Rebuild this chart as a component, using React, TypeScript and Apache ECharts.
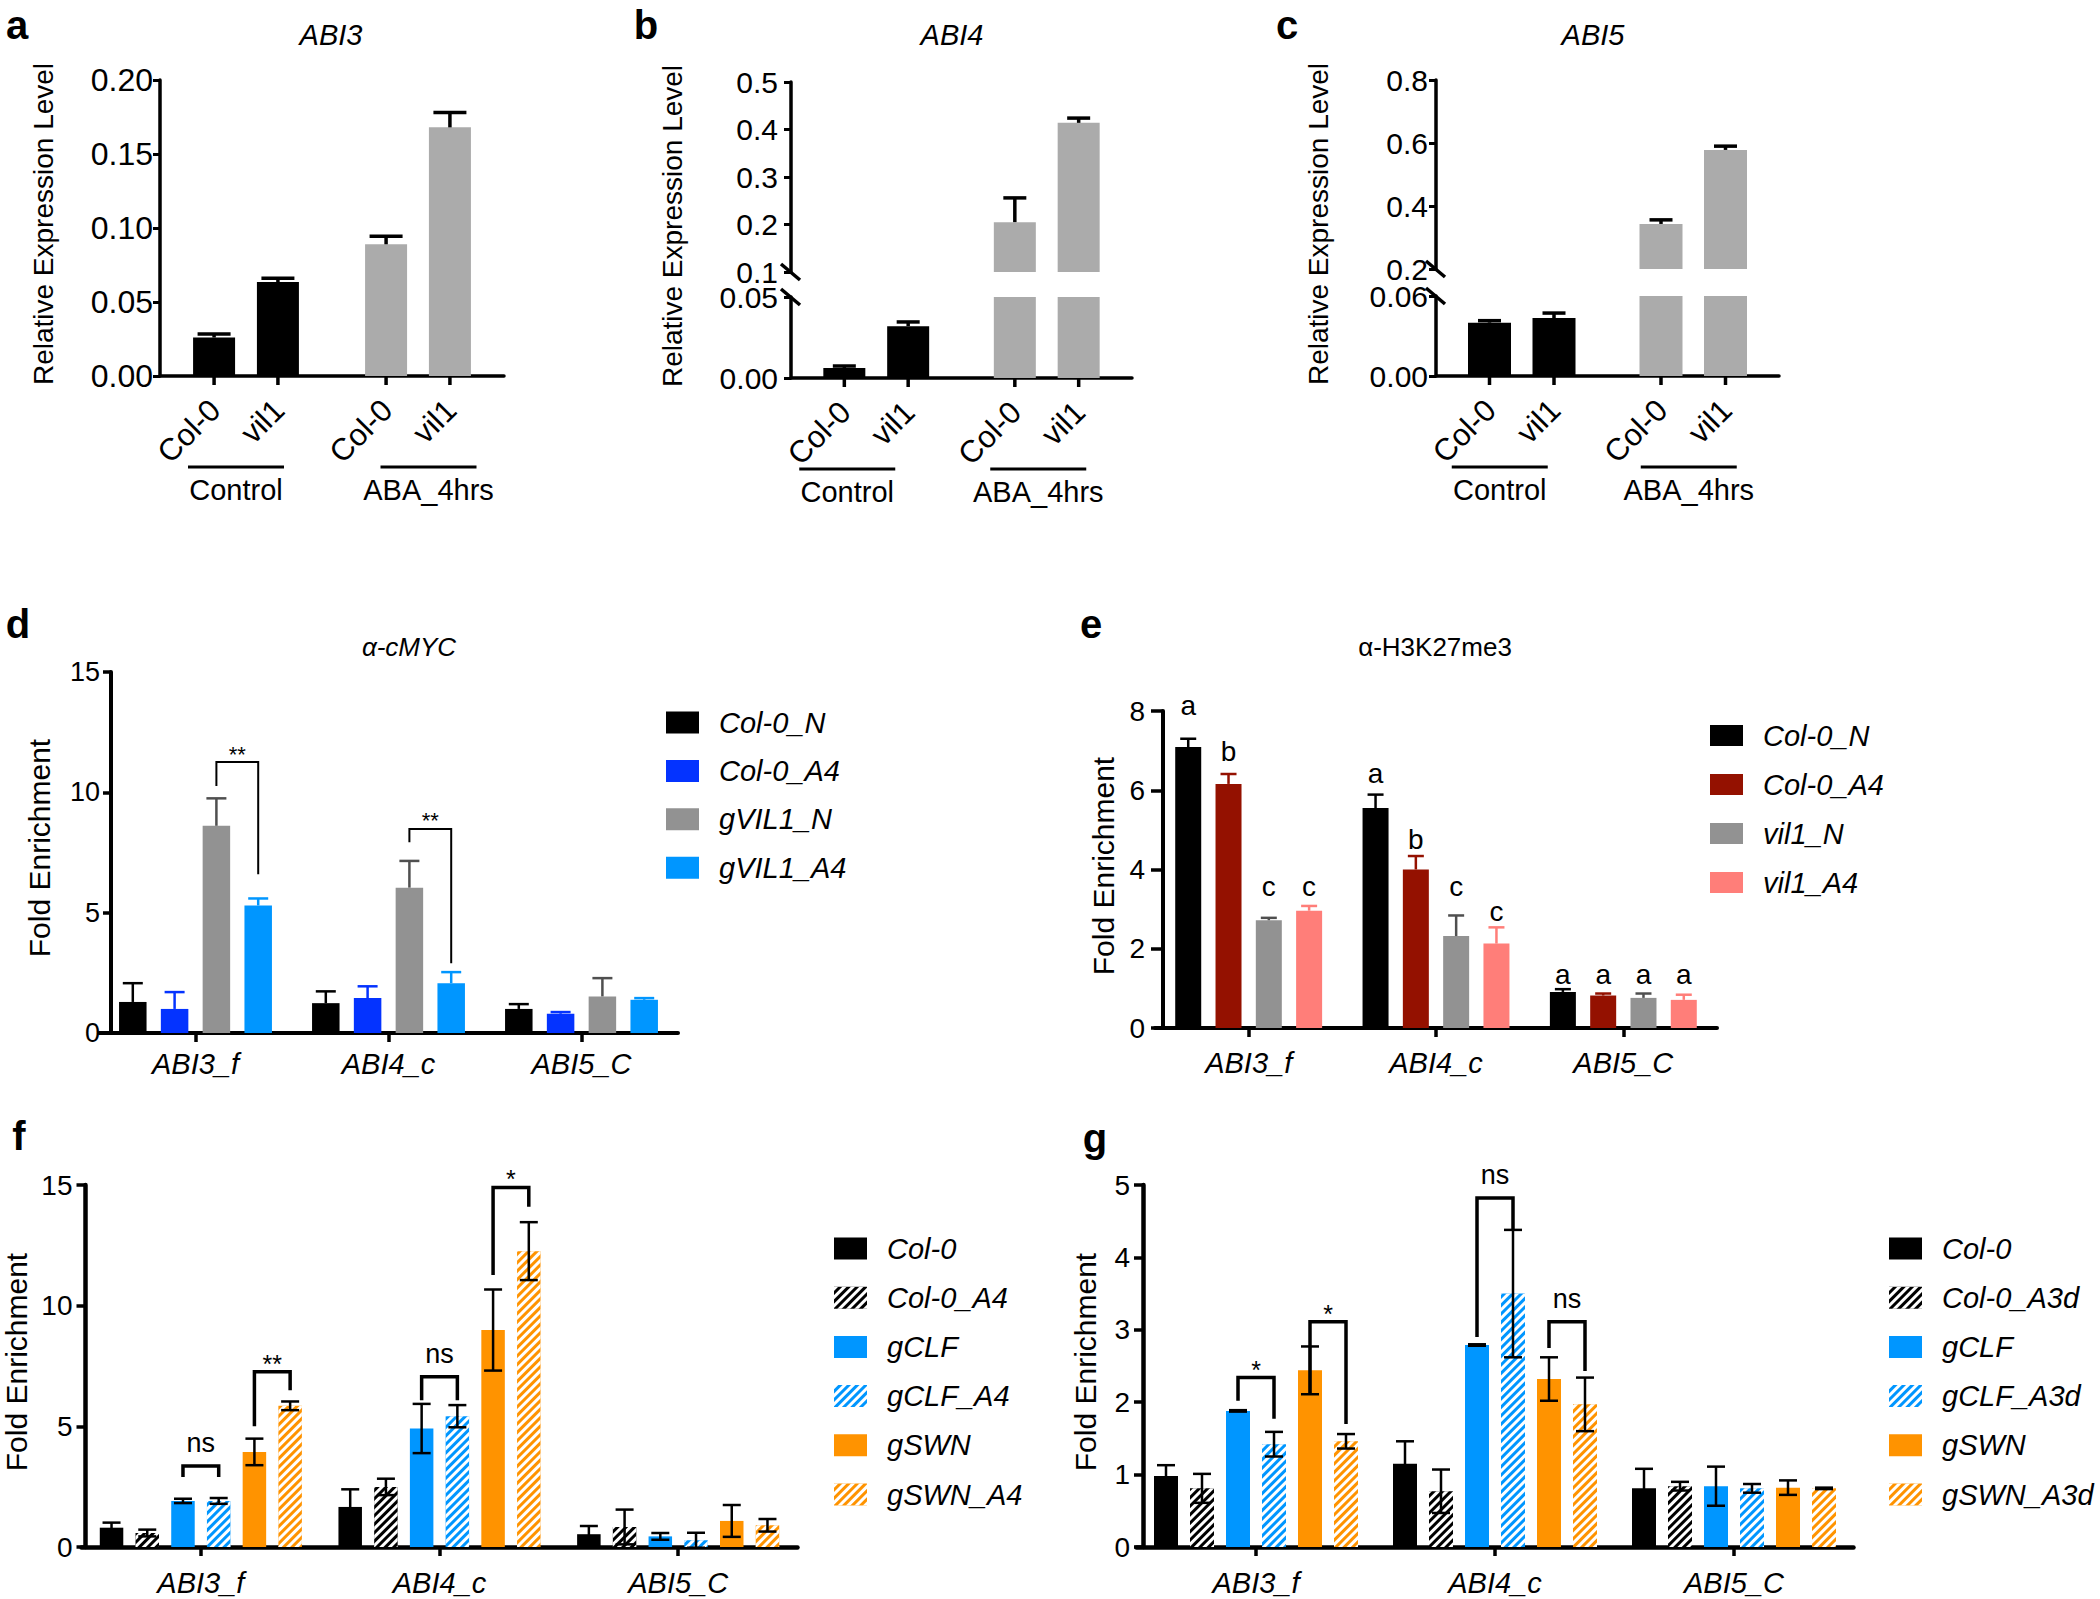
import React, { useEffect, useRef } from 'react';
import * as echarts from 'echarts';

const SANS = "'Liberation Sans', Arial, Helvetica, sans-serif";

// ---------------- a–c : relative expression ----------------
const conditions = ['Control', 'ABA_4hrs'];
const genotypes = ['Col-0', 'vil1'];
const conditionColors = ['#000000', '#ABABAB'];

const abi3Col0 = [0.026, 0.089];
const abi3Col0Err = [0.0023, 0.0055];
const abi3Vil1 = [0.0635, 0.168];
const abi3Vil1Err = [0.0025, 0.01];
const abi3Ticks = [0, 0.05, 0.1, 0.15, 0.2];

const abi4Col0 = [0.0062, 0.205];
const abi4Col0Err = [0.0012, 0.051];
const abi4Vil1 = [0.032, 0.414];
const abi4Vil1Err = [0.0026, 0.01];
const abi4LowerTicks = [0, 0.05];
const abi4UpperTicks = [0.1, 0.2, 0.3, 0.4, 0.5];

const abi5Col0 = [0.04, 0.343];
const abi5Col0Err = [0.0015, 0.013];
const abi5Vil1 = [0.0435, 0.578];
const abi5Vil1Err = [0.0037, 0.012];
const abi5LowerTicks = [0, 0.06];
const abi5UpperTicks = [0.2, 0.4, 0.6, 0.8];

// ---------------- d–g : ChIP fold enrichment ----------------
const loci = ['ABI3_f', 'ABI4_c', 'ABI5_C'];

const mycNames = ['Col-0_N', 'Col-0_A4', 'gVIL1_N', 'gVIL1_A4'];
const mycCol0N = [1.29, 1.24, 1.0];
const mycCol0NErr = [0.78, 0.49, 0.2];
const mycCol0A4 = [1.0, 1.45, 0.8];
const mycCol0A4Err = [0.7, 0.49, 0.07];
const mycGvil1N = [8.61, 6.04, 1.52];
const mycGvil1NErr = [1.14, 1.11, 0.76];
const mycGvil1A4 = [5.3, 2.07, 1.38];
const mycGvil1A4Err = [0.29, 0.46, 0.07];
const mycTicks = [0, 5, 10, 15];
const mycSig = [
  { locus: 0, from: 2, to: 3, top: 11.26, leftEnd: 10.26, rightEnd: 6.6, text: '**' },
  { locus: 1, from: 2, to: 3, top: 8.48, leftEnd: 7.93, rightEnd: 2.9, text: '**' },
];

const k27Names = ['Col-0_N', 'Col-0_A4', 'vil1_N', 'vil1_A4'];
const k27Col0N = [7.09, 5.55, 0.91];
const k27Col0NErr = [0.21, 0.34, 0.07];
const k27Col0A4 = [6.16, 4.0, 0.82];
const k27Col0A4Err = [0.25, 0.34, 0.05];
const k27Vil1N = [2.72, 2.32, 0.76];
const k27Vil1NErr = [0.06, 0.52, 0.11];
const k27Vil1A4 = [2.96, 2.13, 0.71];
const k27Vil1A4Err = [0.12, 0.41, 0.13];
const k27Letters = [
  ['a', 'a', 'a'],
  ['b', 'b', 'a'],
  ['c', 'c', 'a'],
  ['c', 'c', 'a'],
];
const k27LetterY = [
  [8.14, 6.42, 1.36],
  [6.98, 4.75, 1.36],
  [3.56, 3.56, 1.36],
  [3.56, 2.93, 1.36],
];
const k27Ticks = [0, 2, 4, 6, 8];

const pcA4Names = ['Col-0', 'Col-0_A4', 'gCLF', 'gCLF_A4', 'gSWN', 'gSWN_A4'];
const pcA4Col0 = [0.8, 1.66, 0.53];
const pcA4Col0Err = [0.21, 0.73, 0.34];
const pcA4Col0A4 = [0.58, 2.49, 0.83];
const pcA4Col0A4Err = [0.14, 0.34, 0.72];
const pcA4Clf = [1.91, 4.91, 0.44];
const pcA4ClfErr = [0.09, 1.02, 0.14];
const pcA4ClfA4 = [1.91, 5.42, 0.28];
const pcA4ClfA4Err = [0.12, 0.46, 0.31];
const pcA4Swn = [3.94, 8.99, 1.08];
const pcA4SwnErr = [0.55, 1.68, 0.66];
const pcA4SwnA4 = [5.85, 12.26, 0.9];
const pcA4SwnA4Err = [0.18, 1.2, 0.26];
const pcA4Ticks = [0, 5, 10, 15];
const pcA4Sig = [
  { locus: 0, from: 2, to: 3, top: 3.36, leftEnd: 2.9, rightEnd: 2.9, text: 'ns' },
  { locus: 0, from: 4, to: 5, top: 7.26, leftEnd: 5.0, rightEnd: 6.5, text: '**' },
  { locus: 1, from: 2, to: 3, top: 7.05, leftEnd: 6.08, rightEnd: 6.08, text: 'ns' },
  { locus: 1, from: 4, to: 5, top: 14.9, leftEnd: 11.27, rightEnd: 14.1, text: '*' },
];

const pcA3dNames = ['Col-0', 'Col-0_A3d', 'gCLF', 'gCLF_A3d', 'gSWN', 'gSWN_A3d'];
const pcA3dCol0 = [0.98, 1.15, 0.81];
const pcA3dCol0Err = [0.15, 0.31, 0.27];
const pcA3dCol0A3d = [0.81, 0.77, 0.84];
const pcA3dCol0A3dErr = [0.2, 0.3, 0.06];
const pcA3dClf = [1.88, 2.79, 0.84];
const pcA3dClfErr = [0.01, 0.01, 0.27];
const pcA3dClfA3d = [1.42, 3.5, 0.81];
const pcA3dClfA3dErr = [0.17, 0.88, 0.06];
const pcA3dSwn = [2.44, 2.32, 0.82];
const pcA3dSwnErr = [0.33, 0.3, 0.1];
const pcA3dSwnA3d = [1.46, 1.97, 0.81];
const pcA3dSwnA3dErr = [0.1, 0.37, 0.01];
const pcA3dTicks = [0, 1, 2, 3, 4, 5];
const pcA3dSig = [
  { locus: 0, from: 2, to: 3, top: 2.34, leftEnd: 2.02, rightEnd: 1.77, text: '*' },
  { locus: 0, from: 4, to: 5, top: 3.11, leftEnd: 2.11, rightEnd: 1.7, text: '*' },
  { locus: 1, from: 2, to: 3, top: 4.82, leftEnd: 2.9, rightEnd: 4.39, text: 'ns' },
  { locus: 1, from: 4, to: 5, top: 3.11, leftEnd: 2.75, rightEnd: 2.43, text: 'ns' },
];

const mycColors = ['#000000', '#0433FF', '#929292', '#0096FF'];
const mycErrColors = ['#000000', '#0433FF', '#4F4F4F', '#0096FF'];
const k27Colors = ['#000000', '#941100', '#929292', '#FF7E79'];
const k27ErrColors = ['#000000', '#941100', '#4F4F4F', '#FF7E79'];
const pcColors = ['#000000', '#000000', '#0096FF', '#0096FF', '#FF9300', '#FF9300'];
const pcHatched = [false, true, false, true, false, true];

// ---------------- layout (pixels) ----------------
const EXPR_LAYOUT: any = {
  a: { left: 160, width: 344, top: 80, height: 296, barWidth: 42, barGap: 0.52, cap: 33, groupShift: [-10, 10.5], labelMargin: 7, fontSize: 32, titleX: 331, letterX: 17, yTitleX: 43 },
  b: { left: 791, width: 341, upperTop: 82, upperHeight: 190, lowerTop: 297, lowerHeight: 81, barWidth: 42, barGap: 0.52, cap: 23, groupShift: [-29, -8.5], labelMargin: 13, fontSize: 30, titleX: 952, letterX: 646, yTitleX: 672 },
  c: { left: 1436, width: 343, upperTop: 80, upperHeight: 189, lowerTop: 296, lowerHeight: 80, barWidth: 43, barGap: 0.5, cap: 23, groupShift: [-22, -4.5], labelMargin: 8, fontSize: 30, titleX: 1593, letterX: 1287, yTitleX: 1318 },
};
const CHIP_LAYOUT: any = {
  d: { left: 99, top: 672, width: 579, height: 361, yOffset: -12, barWidth: 27.5, barGap: 0.52, cap: 20, errWidth: 2.5, yLine: 4, xLine: 4, yTick: 8, yFont: 27, yMargin: 11, xFont: 29, xMargin: 16, legend: { left: 666, top: 708, w: 33, h: 22, gap: 19.4 }, bracketWidth: 2, titleX: 409, letterX: 18, letterY: 624, yTitleX: 39, yTitleY: 848 },
  e: { left: 1155, top: 711, width: 562, height: 317, yOffset: -8, barWidth: 26, barGap: 0.55, cap: 16, errWidth: 2.5, yLine: 4, xLine: 4, yTick: 12, yFont: 28, yMargin: 18, xFont: 29, xMargin: 20, legend: { left: 1710, top: 721, w: 33, h: 21, gap: 20 }, bracketWidth: 2, titleX: 1435, letterX: 1091, letterY: 624, yTitleX: 1103, yTitleY: 866 },
  f: { left: 81.5, top: 1185, width: 716, height: 362, yOffset: -4, barWidth: 23.5, barGap: 0.52, cap: 18, errWidth: 2.5, yLine: 4.5, xLine: 4.5, yTick: 9, yFont: 28, yMargin: 13, xFont: 29, xMargin: 21, legend: { left: 834, top: 1234, w: 33, h: 22, gap: 20.2 }, bracketWidth: 3.5, titleX: 0, letterX: 19, letterY: 1136, yTitleX: 16, yTitleY: 1362 },
  g: { left: 1136.5, top: 1185, width: 717, height: 362, yOffset: -6.5, barWidth: 24, barGap: 0.5, cap: 18, errWidth: 2.5, yLine: 4.5, xLine: 4.5, yTick: 9, yFont: 28, yMargin: 13, xFont: 29, xMargin: 21, legend: { left: 1889, top: 1234, w: 33, h: 22, gap: 20.2 }, bracketWidth: 3.5, titleX: 0, letterX: 1095, letterY: 1138, yTitleX: 1085, yTitleY: 1362 },
};

const HATCH = {
  symbol: 'rect',
  symbolSize: 1,
  symbolKeepAspect: false,
  color: '#FFFFFF',
  dashArrayX: [1, 0],
  dashArrayY: [2.5, 2.5],
  rotation: -Math.PI / 4,
};

const pct = (f: number) => `${Math.round(f * 100)}%`;

function buildOption() {
  const grid: any[] = [];
  const xAxis: any[] = [];
  const yAxis: any[] = [];
  const series: any[] = [];
  const legend: any[] = [];
  const graphic: any[] = [];

  const addGrid = (r: any) => {
    grid.push({ ...r, containLabel: false, outerBoundsMode: 'none' });
    return grid.length - 1;
  };

  const errorBarSeries = (xi: number, yi: number, items: any[], cfg: any) => ({
    type: 'custom',
    xAxisIndex: xi,
    yAxisIndex: yi,
    silent: true,
    z: 5,
    clip: false,
    data: items.map((it) => [it.cat, it.val, it.err]),
    renderItem: (params: any, api: any) => {
      const it = items[params.dataIndex];
      const step = cfg.barWidth * (1 + cfg.barGap);
      const c = api.coord([it.cat, it.val]);
      const x = c[0] + (it.s - (it.n - 1) / 2) * step;
      const yTop = api.coord([it.cat, it.val + it.err])[1];
      const yBot = cfg.both ? api.coord([it.cat, it.val - it.err])[1] : c[1];
      const style = { stroke: it.color, lineWidth: cfg.lineWidth, fill: 'none' };
      const h = cfg.cap / 2;
      const children: any[] = [
        { type: 'line', shape: { x1: x, y1: yBot, x2: x, y2: yTop }, style },
        { type: 'line', shape: { x1: x - h, y1: yTop, x2: x + h, y2: yTop }, style },
      ];
      if (cfg.both) children.push({ type: 'line', shape: { x1: x - h, y1: yBot, x2: x + h, y2: yBot }, style });
      return { type: 'group', children };
    },
  });

  // ---------- expression panels ----------
  const exprPanels = [
    { key: 'a', title: 'ABI3', vals: [abi3Col0, abi3Vil1], errs: [abi3Col0Err, abi3Vil1Err], lower: abi3Ticks, lowerDec: 2, upper: null as any, upperDec: 1 },
    { key: 'b', title: 'ABI4', vals: [abi4Col0, abi4Vil1], errs: [abi4Col0Err, abi4Vil1Err], lower: abi4LowerTicks, lowerDec: 2, upper: abi4UpperTicks, upperDec: 1 },
    { key: 'c', title: 'ABI5', vals: [abi5Col0, abi5Vil1], errs: [abi5Col0Err, abi5Vil1Err], lower: abi5LowerTicks, lowerDec: 2, upper: abi5UpperTicks, upperDec: 1 },
  ];

  exprPanels.forEach((p) => {
    const L = EXPR_LAYOUT[p.key];
    const segs = p.upper
      ? [
          { ticks: p.lower, dec: p.lowerDec, top: L.lowerTop, height: L.lowerHeight, main: true },
          { ticks: p.upper, dec: p.upperDec, top: L.upperTop, height: L.upperHeight, main: false },
        ]
      : [{ ticks: p.lower, dec: p.lowerDec, top: L.top, height: L.height, main: true }];

    segs.forEach((seg) => {
      const gi = addGrid({ left: L.left, width: L.width, top: seg.top, height: seg.height });
      const lo = seg.ticks[0];
      const hi = seg.ticks[seg.ticks.length - 1];
      xAxis.push({
        type: 'category',
        gridIndex: gi,
        data: conditions,
        show: seg.main,
        axisLine: { show: true, lineStyle: { color: '#000', width: 3.5 } },
        axisTick: { show: false },
        axisLabel: { show: false },
        splitLine: { show: false },
      });
      yAxis.push({
        type: 'value',
        gridIndex: gi,
        min: lo,
        max: hi,
        interval: seg.ticks[1] - seg.ticks[0],
        axisLine: { show: true, lineStyle: { color: '#000', width: 3.5 } },
        axisTick: { show: true, length: 7, lineStyle: { color: '#000', width: 3 } },
        axisLabel: {
          color: '#000',
          fontSize: L.fontSize,
          fontFamily: SANS,
          margin: L.labelMargin,
          formatter: (v: number) => v.toFixed(seg.dec),
        },
        splitLine: { show: false },
      });
      const xi = xAxis.length - 1;
      const yi = yAxis.length - 1;

      genotypes.forEach((g, s) => {
        series.push({
          type: 'bar',
          name: `${p.key}|${g}`,
          xAxisIndex: xi,
          yAxisIndex: yi,
          barWidth: L.barWidth,
          barGap: pct(L.barGap),
          silent: true,
          clip: true,
          data: p.vals[s].map((v: number, i: number) => ({ value: v, itemStyle: { color: conditionColors[i] } })),
        });
      });

      const items: any[] = [];
      conditions.forEach((_, i) =>
        genotypes.forEach((__, s) => {
          const v = p.vals[s][i];
          const e = p.errs[s][i];
          const inSeg = p.upper ? (seg.main ? v + e <= hi : v >= lo) : true;
          if (inSeg) items.push({ cat: i, s, n: genotypes.length, val: v, err: e, color: '#000' });
        })
      );
      series.push(errorBarSeries(xi, yi, items, { barWidth: L.barWidth, barGap: L.barGap, cap: L.cap, lineWidth: 3.5, both: false }));

      if (seg.main) {
        series.push({
          type: 'custom',
          xAxisIndex: xi,
          yAxisIndex: yi,
          silent: true,
          clip: false,
          data: conditions.map((_, i) => [i, lo]),
          renderItem: (params: any, api: any) => {
            const i = params.dataIndex;
            const base = api.coord([i, lo]);
            const cx = base[0];
            const y0 = base[1];
            const step = L.barWidth * (1 + L.barGap);
            const children: any[] = [];
            genotypes.forEach((g, s) => {
              const x = cx + (s - (genotypes.length - 1) / 2) * step;
              children.push({ type: 'line', shape: { x1: x, y1: y0, x2: x, y2: y0 + 9 }, style: { stroke: '#000', lineWidth: 3.5 } });
              children.push({
                type: 'text',
                x: x + 1,
                y: y0 + 29,
                rotation: Math.PI / 4,
                style: { text: g, align: 'right', verticalAlign: 'middle', fontSize: 31, fontFamily: SANS, fill: '#000' },
              });
            });
            const gx = cx + L.groupShift[i];
            children.push({ type: 'line', shape: { x1: gx - 48, y1: y0 + 91, x2: gx + 48, y2: y0 + 91 }, style: { stroke: '#000', lineWidth: 3 } });
            children.push({
              type: 'text',
              x: gx,
              y: y0 + 114,
              style: { text: conditions[i], align: 'center', verticalAlign: 'middle', fontSize: 29, fontFamily: SANS, fill: '#000' },
            });
            return { type: 'group', children };
          },
        });
      }
    });

    // break marks on the split axes
    if (p.upper) {
      const ax = L.left;
      [L.upperTop + L.upperHeight, L.lowerTop].forEach((yb: number) => {
        graphic.push({ type: 'line', shape: { x1: ax - 10, y1: yb - 8, x2: ax + 9, y2: yb + 8 }, style: { stroke: '#000', lineWidth: 3.5 } });
      });
    }

    const top = p.upper ? L.upperTop : L.top;
    const bottom = p.upper ? L.lowerTop + L.lowerHeight : L.top + L.height;
    graphic.push({ type: 'text', x: L.titleX, y: 35, style: { text: p.title, align: 'center', verticalAlign: 'middle', fontSize: 29, fontStyle: 'italic', fontFamily: SANS, fill: '#000' } });
    graphic.push({ type: 'text', x: L.letterX, y: 25, style: { text: p.key, align: 'center', verticalAlign: 'middle', fontSize: 40, fontWeight: 'bold', fontFamily: SANS, fill: '#000' } });
    graphic.push({
      type: 'text',
      x: L.yTitleX,
      y: (top + bottom) / 2 - 4,
      rotation: Math.PI / 2,
      style: { text: 'Relative Expression Level', align: 'center', verticalAlign: 'middle', fontSize: 28, fontFamily: SANS, fill: '#000' },
    });
  });

  // ---------- ChIP panels ----------
  const chipPanels = [
    {
      key: 'd', title: 'α-cMYC', titleItalic: true, names: mycNames, colors: mycColors, errColors: mycErrColors, hatched: [false, false, false, false],
      vals: [mycCol0N, mycCol0A4, mycGvil1N, mycGvil1A4], errs: [mycCol0NErr, mycCol0A4Err, mycGvil1NErr, mycGvil1A4Err],
      ticks: mycTicks, sig: mycSig, both: false, letters: null as any, letterY: null as any,
    },
    {
      key: 'e', title: 'α-H3K27me3', titleItalic: false, names: k27Names, colors: k27Colors, errColors: k27ErrColors, hatched: [false, false, false, false],
      vals: [k27Col0N, k27Col0A4, k27Vil1N, k27Vil1A4], errs: [k27Col0NErr, k27Col0A4Err, k27Vil1NErr, k27Vil1A4Err],
      ticks: k27Ticks, sig: [] as any[], both: false, letters: k27Letters, letterY: k27LetterY,
    },
    {
      key: 'f', title: '', titleItalic: false, names: pcA4Names, colors: pcColors, errColors: pcColors.map(() => '#000000'), hatched: pcHatched,
      vals: [pcA4Col0, pcA4Col0A4, pcA4Clf, pcA4ClfA4, pcA4Swn, pcA4SwnA4], errs: [pcA4Col0Err, pcA4Col0A4Err, pcA4ClfErr, pcA4ClfA4Err, pcA4SwnErr, pcA4SwnA4Err],
      ticks: pcA4Ticks, sig: pcA4Sig, both: true, letters: null as any, letterY: null as any,
    },
    {
      key: 'g', title: '', titleItalic: false, names: pcA3dNames, colors: pcColors, errColors: pcColors.map(() => '#000000'), hatched: pcHatched,
      vals: [pcA3dCol0, pcA3dCol0A3d, pcA3dClf, pcA3dClfA3d, pcA3dSwn, pcA3dSwnA3d], errs: [pcA3dCol0Err, pcA3dCol0A3dErr, pcA3dClfErr, pcA3dClfA3dErr, pcA3dSwnErr, pcA3dSwnA3dErr],
      ticks: pcA3dTicks, sig: pcA3dSig, both: true, letters: null as any, letterY: null as any,
    },
  ];

  chipPanels.forEach((p) => {
    const L = CHIP_LAYOUT[p.key];
    const n = p.names.length;
    const step = L.barWidth * (1 + L.barGap);
    const gi = addGrid({ left: L.left, top: L.top, width: L.width, height: L.height });
    xAxis.push({
      type: 'category',
      gridIndex: gi,
      data: loci,
      axisLine: { show: true, lineStyle: { color: '#000', width: L.xLine } },
      axisTick: { show: true, alignWithLabel: true, length: 9, lineStyle: { color: '#000', width: 3.5 } },
      axisLabel: { color: '#000', fontSize: L.xFont, fontStyle: 'italic', fontFamily: SANS, margin: L.xMargin },
      splitLine: { show: false },
    });
    yAxis.push({
      type: 'value',
      gridIndex: gi,
      offset: L.yOffset,
      min: p.ticks[0],
      max: p.ticks[p.ticks.length - 1],
      interval: p.ticks[1] - p.ticks[0],
      axisLine: { show: true, lineStyle: { color: '#000', width: L.yLine } },
      axisTick: { show: true, length: L.yTick, lineStyle: { color: '#000', width: 3.5 } },
      axisLabel: { color: '#000', fontSize: L.yFont, fontFamily: SANS, margin: L.yMargin },
      splitLine: { show: false },
    });
    const xi = xAxis.length - 1;
    const yi = yAxis.length - 1;

    p.names.forEach((name: string, s: number) => {
      const itemStyle: any = { color: p.colors[s] };
      if (p.hatched[s]) itemStyle.decal = HATCH;
      series.push({
        type: 'bar',
        name: `${p.key}|${name}`,
        xAxisIndex: xi,
        yAxisIndex: yi,
        barWidth: L.barWidth,
        barGap: pct(L.barGap),
        silent: true,
        itemStyle,
        data: p.vals[s],
      });
    });

    const items: any[] = [];
    loci.forEach((_, i) =>
      p.names.forEach((__: string, s: number) => {
        items.push({ cat: i, s, n, val: p.vals[s][i], err: p.errs[s][i], color: p.errColors[s] });
      })
    );
    series.push(errorBarSeries(xi, yi, items, { barWidth: L.barWidth, barGap: L.barGap, cap: L.cap, lineWidth: L.errWidth, both: p.both }));

    if (p.sig.length) {
      const sig = p.sig;
      series.push({
        type: 'custom',
        xAxisIndex: xi,
        yAxisIndex: yi,
        silent: true,
        clip: false,
        z: 6,
        data: sig.map((b: any) => [b.locus, b.top]),
        renderItem: (params: any, api: any) => {
          const b = sig[params.dataIndex];
          const c = api.coord([b.locus, b.top]);
          const xL = c[0] + (b.from - (n - 1) / 2) * step;
          const xR = c[0] + (b.to - (n - 1) / 2) * step;
          const yT = c[1];
          const yL = api.coord([b.locus, b.leftEnd])[1];
          const yR = api.coord([b.locus, b.rightEnd])[1];
          const star = b.text.indexOf('*') >= 0;
          return {
            type: 'group',
            children: [
              {
                type: 'polyline',
                shape: { points: [[xL, yL], [xL, yT], [xR, yT], [xR, yR]] },
                style: { stroke: '#000', lineWidth: L.bracketWidth, fill: 'none' },
              },
              {
                type: 'text',
                x: (xL + xR) / 2,
                y: yT - (star ? 8 : 23),
                style: { text: b.text, align: 'center', verticalAlign: 'middle', fontSize: star ? (p.key === 'd' ? 22 : 25) : 27, fontFamily: SANS, fill: '#000' },
              },
            ],
          };
        },
      });
    }

    if (p.letters) {
      const lt: any[] = [];
      loci.forEach((_, i) => p.names.forEach((__: string, s: number) => lt.push({ cat: i, s, y: p.letterY[s][i], text: p.letters[s][i] })));
      series.push({
        type: 'custom',
        xAxisIndex: xi,
        yAxisIndex: yi,
        silent: true,
        clip: false,
        z: 6,
        data: lt.map((t) => [t.cat, t.y]),
        renderItem: (params: any, api: any) => {
          const t = lt[params.dataIndex];
          const c = api.coord([t.cat, t.y]);
          const x = c[0] + (t.s - (n - 1) / 2) * step;
          return {
            type: 'text',
            x,
            y: c[1],
            style: { text: t.text, align: 'center', verticalAlign: 'middle', fontSize: 28, fontFamily: SANS, fill: '#000' },
          };
        },
      });
    }

    legend.push({
      orient: 'vertical',
      left: L.legend.left,
      top: L.legend.top,
      itemWidth: L.legend.w,
      itemHeight: L.legend.h,
      itemGap: L.legend.gap,
      icon: 'rect',
      selectedMode: false,
      padding: 0,
      data: p.names.map((nm: string) => `${p.key}|${nm}`),
      formatter: (nm: string) => nm.split('|')[1],
      textStyle: { color: '#000', fontSize: 29, lineHeight: 28, fontStyle: 'italic', fontFamily: SANS, padding: [0, 0, 0, 15] },
    });

    if (p.title) {
      graphic.push({
        type: 'text',
        x: L.titleX,
        y: 647,
        style: { text: p.title, align: 'center', verticalAlign: 'middle', fontSize: 26, fontStyle: p.titleItalic ? 'italic' : 'normal', fontFamily: SANS, fill: '#000' },
      });
    }
    graphic.push({
      type: 'text',
      x: L.letterX,
      y: L.letterY,
      style: { text: p.key, align: 'center', verticalAlign: 'middle', fontSize: 40, fontWeight: 'bold', fontFamily: SANS, fill: '#000' },
    });
    graphic.push({
      type: 'text',
      x: L.yTitleX,
      y: L.yTitleY,
      rotation: Math.PI / 2,
      style: { text: 'Fold Enrichment', align: 'center', verticalAlign: 'middle', fontSize: 30, fontFamily: SANS, fill: '#000' },
    });
  });

  return { animation: false, backgroundColor: '#ffffff', grid, xAxis, yAxis, series, legend, graphic };
}

export default function App() {
  const ref = useRef<HTMLDivElement>(null);
  useEffect(() => {
    document.body.style.margin = '0';
    const chart = echarts.init(ref.current as HTMLDivElement, null, { renderer: 'svg' });
    chart.setOption(buildOption() as any);
    return () => chart.dispose();
  }, []);
  return <div ref={ref} style={{ width: 2100, height: 1599 }} />;
}
